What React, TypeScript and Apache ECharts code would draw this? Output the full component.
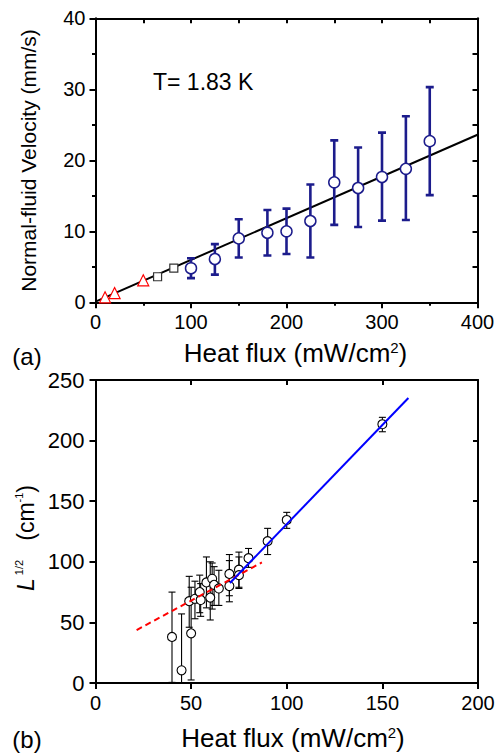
import React, { useEffect, useRef } from "react";
import * as echarts from "echarts";

// ---------- Panel (a) data ----------
const fitLineA: number[][] = [[0, 0.1], [400, 23.6]];
const trianglesA: number[][] = [[10, 0.7], [20, 1.3], [50, 3.1]];
const squaresA: number[][] = [[65, 3.6], [82, 4.8]];
const circlesAX = [100, 125, 150, 180, 200, 225, 250, 275, 300, 325, 350];
const circlesAY = [4.8, 6.1, 9.0, 9.8, 10.0, 11.45, 16.9, 16.1, 17.65, 18.8, 22.7];
const circlesALo = [3.4, 3.9, 6.3, 6.6, 6.8, 6.3, 10.9, 10.6, 11.5, 11.6, 15.1];
const circlesAHi = [6.2, 8.2, 11.7, 13.0, 13.2, 16.6, 22.8, 21.8, 23.9, 26.2, 30.3];
const xTicksA = [0, 100, 200, 300, 400];
const yTicksA = [0, 10, 20, 30, 40];

// ---------- Panel (b) data ----------
const redDashB: number[][] = [[21.5, 43.7], [87, 99.5]];
const blueLineB: number[][] = [[70.3, 82.5], [163.6, 235.1]];
const pointsBX = [40, 45, 49, 50, 52, 54.5, 55, 58, 60, 61, 62, 64.5, 70, 70, 75, 75, 80, 90, 100, 150];
const pointsBY = [38, 10.5, 67.5, 41, 69.5, 75, 68.5, 83, 70.5, 86, 81, 78, 90, 80, 93.5, 89, 103, 117, 134.5, 213.5];
const pointsBLo = [0.5, 0, 46, 2.5, 53, 58, 55, 62, 52, 61, 64, 64, 72, 67, 78, 79, 95.4, 106, 127.6, 207.3];
const pointsBHi = [75, 57, 88, 79, 84, 89, 82, 104, 100, 99, 96, 93, 106, 101, 108, 104, 111, 127.6, 140.8, 219.2];
const xTicksB = [0, 50, 100, 150, 200];
const yTicksB = [0, 50, 100, 150, 200, 250];

const FONT = "'Liberation Sans', Arial, Helvetica, sans-serif";
const NAVY = "#1c1c8c";

function errorBarSeries(
  xs: number[], lo: number[], hi: number[], xi: number, yi: number,
  color: string, lw: number, cap: number
) {
  return {
    type: "custom",
    xAxisIndex: xi,
    yAxisIndex: yi,
    clip: true,
    z: 3,
    data: xs.map((x, i) => [x, lo[i], hi[i]]),
    encode: { x: 0, y: [1, 2] },
    renderItem: (params: any, api: any) => {
      const x = api.value(0);
      const p1 = api.coord([x, api.value(1)]);
      const p2 = api.coord([x, api.value(2)]);
      const style = { stroke: color, lineWidth: lw };
      return {
        type: "group",
        children: [
          { type: "line", shape: { x1: p1[0], y1: p1[1], x2: p2[0], y2: p2[1] }, style },
          { type: "line", shape: { x1: p1[0] - cap, y1: p1[1], x2: p1[0] + cap, y2: p1[1] }, style },
          { type: "line", shape: { x1: p2[0] - cap, y1: p2[1], x2: p2[0] + cap, y2: p2[1] }, style },
        ],
      };
    },
  };
}

function mainAxis(gridIndex: number, min: number, max: number, interval: number, minor: boolean, labelSize: number, margin: number) {
  return {
    type: "value",
    gridIndex,
    min,
    max,
    interval,
    axisLine: { show: true, onZero: false, lineStyle: { color: "#000", width: 2 } },
    axisTick: { show: true, inside: false, length: 6, lineStyle: { color: "#000", width: 2 } },
    minorTick: { show: minor, splitNumber: 2, length: 3.5, lineStyle: { color: "#000", width: 2 } },
    axisLabel: { color: "#000", fontSize: labelSize, fontFamily: FONT, margin },
    splitLine: { show: false },
    minorSplitLine: { show: false },
  };
}

function mirrorAxis(gridIndex: number, min: number, max: number, interval: number, minor: boolean, position: string) {
  return {
    type: "value",
    gridIndex,
    min,
    max,
    interval,
    position,
    axisLine: { show: true, onZero: false, lineStyle: { color: "#000", width: 2 } },
    axisTick: { show: true, inside: true, length: 5, lineStyle: { color: "#000", width: 2 } },
    minorTick: { show: minor, splitNumber: 2, length: 5, lineStyle: { color: "#000", width: 2 } },
    axisLabel: { show: false },
    splitLine: { show: false },
    minorSplitLine: { show: false },
  };
}

const titleRich = {
  n: { fontSize: 26, fontFamily: FONT, fill: "#000", lineHeight: 26 },
  s: { fontSize: 15, fontFamily: FONT, fill: "#000", verticalAlign: "top", lineHeight: 14 },
};

export default function App() {
  const ref = useRef<HTMLDivElement>(null);
  useEffect(() => {
    if (!ref.current) return;
    const chart = echarts.init(ref.current, undefined, { renderer: "svg" });
    const option: any = {
      animation: false,
      backgroundColor: "#fff",
      grid: [
        { left: 95.5, top: 18.3, width: 382, height: 284 },
        { left: 95.5, top: 380, width: 382.5, height: 303 },
      ],
      xAxis: [
        mainAxis(0, xTicksA[0], xTicksA[xTicksA.length - 1], xTicksA[1] - xTicksA[0], true, 20, 10),
        mirrorAxis(0, xTicksA[0], xTicksA[xTicksA.length - 1], xTicksA[1] - xTicksA[0], true, "top"),
        mainAxis(1, xTicksB[0], xTicksB[xTicksB.length - 1], xTicksB[1] - xTicksB[0], false, 20, 10),
        mirrorAxis(1, xTicksB[0], xTicksB[xTicksB.length - 1], xTicksB[1] - xTicksB[0], false, "top"),
      ],
      yAxis: [
        mainAxis(0, yTicksA[0], yTicksA[yTicksA.length - 1], yTicksA[1] - yTicksA[0], true, 20, 10),
        mirrorAxis(0, yTicksA[0], yTicksA[yTicksA.length - 1], yTicksA[1] - yTicksA[0], true, "right"),
        mainAxis(1, yTicksB[0], yTicksB[yTicksB.length - 1], yTicksB[1] - yTicksB[0], false, 22, 11),
        mirrorAxis(1, yTicksB[0], yTicksB[yTicksB.length - 1], yTicksB[1] - yTicksB[0], false, "right"),
      ],
      series: [
        // Panel (a)
        {
          type: "line", xAxisIndex: 0, yAxisIndex: 0, data: fitLineA, symbol: "none", z: 2,
          lineStyle: { color: "#000", width: 2 },
        },
        errorBarSeries(circlesAX, circlesALo, circlesAHi, 0, 0, NAVY, 2.6, 4),
        {
          type: "scatter", xAxisIndex: 0, yAxisIndex: 0, z: 4,
          data: circlesAX.map((x, i) => [x, circlesAY[i]]),
          symbol: "circle", symbolSize: 11,
          itemStyle: { color: "#fff", borderColor: NAVY, borderWidth: 1.5, opacity: 1 },
        },
        {
          type: "scatter", xAxisIndex: 0, yAxisIndex: 0, z: 4, data: squaresA,
          symbol: "rect", symbolSize: 8,
          itemStyle: { color: "#fff", borderColor: "#333", borderWidth: 1.2, opacity: 1 },
        },
        {
          type: "scatter", xAxisIndex: 0, yAxisIndex: 0, z: 4, data: trianglesA,
          symbol: "triangle", symbolSize: 11,
          itemStyle: { color: "#fff", borderColor: "#ff0000", borderWidth: 1.2, opacity: 1 },
        },
        // Panel (b)
        errorBarSeries(pointsBX, pointsBLo, pointsBHi, 2, 2, "#000", 1.1, 3.5),
        {
          type: "scatter", xAxisIndex: 2, yAxisIndex: 2, z: 4,
          data: pointsBX.map((x, i) => [x, pointsBY[i]]),
          symbol: "circle", symbolSize: 9,
          itemStyle: { color: "#fff", borderColor: "#000", borderWidth: 1.1, opacity: 1 },
        },
        {
          type: "line", xAxisIndex: 2, yAxisIndex: 2, data: redDashB, symbol: "none", z: 5,
          lineStyle: { color: "#ff0000", width: 2, type: [6, 4] },
        },
        {
          type: "line", xAxisIndex: 2, yAxisIndex: 2, data: blueLineB, symbol: "none", z: 5,
          lineStyle: { color: "#0000ff", width: 2 },
        },
      ],
      graphic: [
        {
          type: "text", left: 153, top: 70,
          style: { text: "T= 1.83 K", fontSize: 23, fontFamily: FONT, fill: "#000" },
        },
        {
          type: "text", x: 28.5, y: 160.5, rotation: Math.PI / 2,
          style: {
            text: "Normal-fluid Velocity (mm/s)", fontSize: 21, fontFamily: FONT, fill: "#000",
            align: "center", verticalAlign: "middle",
          },
        },
        {
          type: "text", x: 295.5, y: 352.5,
          style: {
            text: "{n|Heat flux (mW/cm}{s|2}{n|)}", fill: "#000",
            align: "center", verticalAlign: "middle", rich: titleRich,
          },
        },
        {
          type: "text", x: 27, y: 356,
          style: { text: "(a)", fontSize: 24, fontFamily: FONT, fill: "#000", align: "center", verticalAlign: "middle" },
        },
        {
          type: "text", x: 293, y: 738,
          style: {
            text: "{n|Heat flux (mW/cm}{s|2}{n|)}", fill: "#000",
            align: "center", verticalAlign: "middle", rich: titleRich,
          },
        },
        {
          type: "text", x: 27, y: 739,
          style: { text: "(b)", fontSize: 24, fontFamily: FONT, fill: "#000", align: "center", verticalAlign: "middle" },
        },
        {
          type: "text", x: 26, y: 538, rotation: Math.PI / 2,
          style: {
            text: "{i|L}{s| 1/2}{n|   (cm}{s|-1}{n|)}", fill: "#000",
            align: "center", verticalAlign: "middle",
            rich: {
              i: { fontSize: 23, fontFamily: FONT, fontStyle: "italic", fill: "#000", lineHeight: 26 },
              n: { fontSize: 23, fontFamily: FONT, fill: "#000", lineHeight: 26 },
              s: { fontSize: 11, fontFamily: FONT, fill: "#000", verticalAlign: "top", lineHeight: 12 },
            },
          },
        },
      ],
    };
    chart.setOption(option);
    return () => chart.dispose();
  }, []);
  return (
    <div
      ref={ref}
      style={{ position: "fixed", left: 0, top: 0, width: 503, height: 753, background: "#fff" }}
    />
  );
}
